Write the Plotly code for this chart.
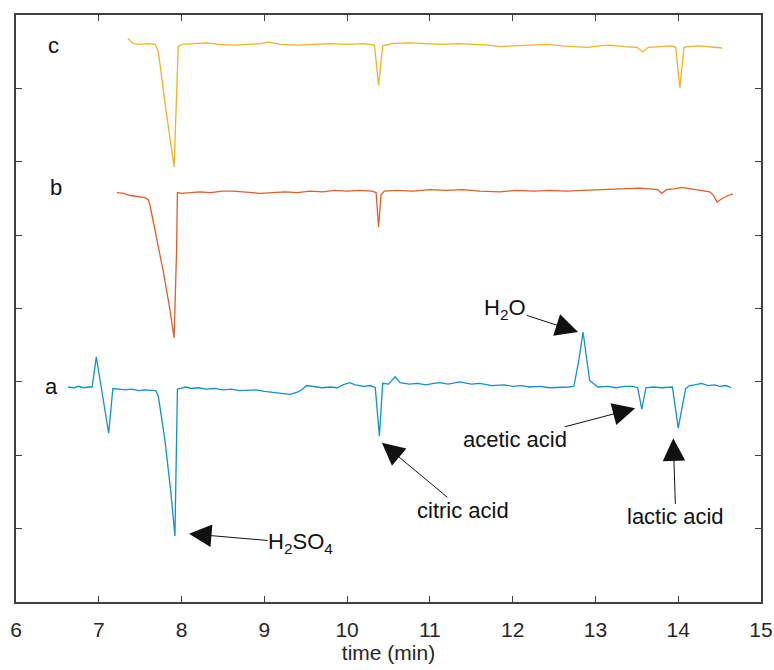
import plotly.graph_objects as go

# Trace a (blue)
a_x = [6.63, 6.70, 6.75, 6.82, 6.88, 6.92, 6.97, 7.02, 7.12, 7.17, 7.25, 7.32, 7.40, 7.48, 7.55, 7.63, 7.69,
       7.72, 7.80, 7.87, 7.92, 7.95, 8.00, 8.05, 8.12, 8.20, 8.30, 8.40, 8.50, 8.60, 8.70, 8.80, 8.90, 9.00,
       9.10, 9.20, 9.31, 9.40, 9.45, 9.51, 9.60, 9.70, 9.80, 9.88, 9.95, 10.03, 10.10, 10.20, 10.28, 10.34,
       10.39, 10.43, 10.50, 10.58, 10.64, 10.75, 10.85, 10.95, 11.05, 11.12, 11.22, 11.36, 11.50, 11.60, 11.75,
       11.90, 12.00, 12.10, 12.20, 12.33, 12.45, 12.57, 12.68, 12.74, 12.80, 12.85, 12.90, 12.93, 13.03, 13.15,
       13.25, 13.35, 13.45, 13.51, 13.56, 13.61, 13.70, 13.80, 13.93, 14.00, 14.09, 14.14, 14.20, 14.28, 14.36,
       14.44, 14.50, 14.58, 14.64]
a_y = [2.93, 2.92, 2.94, 2.92, 2.93, 2.93, 3.34, 3.00, 2.30, 2.91, 2.90, 2.89, 2.90, 2.88, 2.89, 2.89, 2.88,
       2.80, 2.20, 1.50, 0.90, 2.90, 2.91, 2.93, 2.91, 2.92, 2.90, 2.91, 2.89, 2.90, 2.88, 2.89, 2.89, 2.87,
       2.86, 2.85, 2.83, 2.86, 2.89, 2.95, 2.94, 2.92, 2.93, 2.92, 2.96, 2.99, 2.96, 2.94, 2.95, 2.92,
       2.26, 2.98, 2.97, 3.07, 2.99, 2.97, 2.98, 2.96, 2.98, 2.99, 2.97, 3.00, 2.97, 2.98, 2.95,
       2.96, 2.94, 2.95, 2.93, 2.94, 2.92, 2.92, 2.93, 2.94, 3.30, 3.68, 3.30, 3.02, 2.93, 2.94,
       2.92, 2.94, 2.94, 2.92, 2.63, 2.92, 2.93, 2.92, 2.93, 2.37, 2.91, 2.95, 2.96, 2.98, 2.95,
       2.96, 2.94, 2.95, 2.92]

# Trace b (orange)
b_x = [7.22, 7.30, 7.38, 7.45, 7.50, 7.56, 7.60, 7.62, 7.70, 7.78, 7.85, 7.91, 7.94, 7.95, 8.00, 8.10, 8.22,
       8.35, 8.50, 8.62, 8.75, 8.85, 8.95, 9.10, 9.25, 9.40, 9.55, 9.70, 9.85, 10.00, 10.15, 10.30, 10.35,
       10.38, 10.41, 10.45, 10.60, 10.80, 11.00, 11.20, 11.40, 11.60, 11.85, 12.05, 12.25, 12.45, 12.65,
       12.85, 13.05, 13.25, 13.40, 13.54, 13.65, 13.75, 13.80, 13.86, 13.95, 14.04, 14.15, 14.26, 14.38,
       14.42, 14.47, 14.53, 14.60, 14.66]
b_y = [5.58, 5.57, 5.54, 5.53, 5.52, 5.51, 5.48, 5.40, 4.95, 4.50, 4.05, 3.60, 4.80, 5.58, 5.57, 5.58, 5.59,
       5.58, 5.60, 5.60, 5.59, 5.58, 5.57, 5.58, 5.59, 5.58, 5.60, 5.59, 5.61, 5.60, 5.61, 5.60, 5.58,
       5.11, 5.55, 5.60, 5.61, 5.60, 5.62, 5.61, 5.62, 5.60, 5.59, 5.61, 5.60, 5.61, 5.60,
       5.61, 5.62, 5.62, 5.63, 5.64, 5.63, 5.62, 5.57, 5.62, 5.63, 5.65, 5.63, 5.61, 5.59,
       5.55, 5.45, 5.50, 5.54, 5.56]

# Trace c (yellow)
c_x = [7.35, 7.42, 7.50, 7.60, 7.68, 7.72, 7.80, 7.86, 7.91, 7.96, 8.00, 8.15, 8.30, 8.45, 8.62, 8.80, 8.95,
       9.05, 9.20, 9.40, 9.60, 9.80, 10.00, 10.20, 10.33, 10.38, 10.43, 10.55, 10.75, 10.95, 11.15, 11.35,
       11.55, 11.70, 11.85, 12.05, 12.25, 12.41, 12.60, 12.75, 12.90, 13.05, 13.17, 13.35, 13.50, 13.57,
       13.64, 13.78, 13.92, 13.97, 14.02, 14.07, 14.12, 14.25, 14.35, 14.45, 14.53]
c_y = [7.68, 7.61, 7.60, 7.61, 7.60, 7.50, 6.80, 6.35, 5.93, 7.57, 7.60, 7.61, 7.62, 7.60, 7.59, 7.60, 7.61,
       7.63, 7.60, 7.59, 7.60, 7.61, 7.60, 7.61, 7.59, 7.04, 7.58, 7.61, 7.62, 7.61, 7.60, 7.61,
       7.60, 7.59, 7.57, 7.58, 7.59, 7.60, 7.58, 7.57, 7.56, 7.58, 7.59, 7.57, 7.56, 7.50,
       7.56, 7.57, 7.58, 7.56, 7.01, 7.56, 7.57, 7.58, 7.57, 7.56, 7.55]

series_labels = ["a", "b", "c"]
label_x = [6.43, 6.48, 6.45]
label_y = [2.94, 5.65, 7.59]

# annotations: text, text centre, arrow tip
ann_text = ["H<sub>2</sub>SO<sub>4</sub>", "citric acid", "H<sub>2</sub>O", "acetic acid", "lactic acid"]
ann_tx = [9.44, 11.40, 11.91, 12.03, 13.97]
ann_ty = [0.80, 1.25, 4.00, 2.21, 1.16]
tip_x = [8.09, 10.42, 12.79, 13.48, 13.94]
tip_y = [0.93, 2.17, 3.68, 2.64, 2.23]

FONT = "Liberation Sans, Arial, sans-serif"
TXT = 22

fig = go.Figure()
fig.add_trace(go.Scatter(x=a_x, y=a_y, mode="lines", line=dict(color="#1391c9", width=1.3), showlegend=False))
fig.add_trace(go.Scatter(x=b_x, y=b_y, mode="lines", line=dict(color="#dd5f2a", width=1.3), showlegend=False))
fig.add_trace(go.Scatter(x=c_x, y=c_y, mode="lines", line=dict(color="#efb324", width=1.3), showlegend=False))

annotations = []
for t, x, y in zip(series_labels, label_x, label_y):
    annotations.append(dict(x=x, y=y, xref="x", yref="y", text=t, showarrow=False,
                            font=dict(size=TXT, color="#111111", family=FONT)))
for t, tx, ty, x, y in zip(ann_text, ann_tx, ann_ty, tip_x, tip_y):
    annotations.append(dict(x=x, y=y, ax=tx, ay=ty, xref="x", yref="y", axref="x", ayref="y",
                            text=t, showarrow=True, arrowhead=2, arrowsize=4.5, arrowwidth=1.0,
                            arrowcolor="#111111", standoff=0, borderpad=0,
                            font=dict(size=TXT, color="#111111", family=FONT)))

fig.update_layout(
    width=774, height=670,
    margin=dict(l=16, r=13, t=15, b=68, autoexpand=False),
    plot_bgcolor="white", paper_bgcolor="white",
    font=dict(family=FONT, size=21, color="#262626"),
    annotations=annotations,
    xaxis=dict(range=[6, 15], dtick=1, tick0=6, ticks="inside", ticklen=6, tickwidth=1.2,
               tickcolor="#404040", showline=True, linecolor="#404040", linewidth=1.5, mirror="ticks",
               showgrid=False, zeroline=False, ticklabelstandoff=8, automargin=False,
               title=dict(text="time (min)", font=dict(size=21, family=FONT), standoff=2),
               tickfont=dict(size=21, family=FONT)),
    yaxis=dict(range=[0, 8], dtick=1, tick0=0, ticks="inside", ticklen=6, tickwidth=1.2,
               tickcolor="#404040", showline=True, linecolor="#404040", linewidth=1.5, mirror="ticks",
               showgrid=False, zeroline=False, showticklabels=False, automargin=False),
)

fig.write_html("out.html")
